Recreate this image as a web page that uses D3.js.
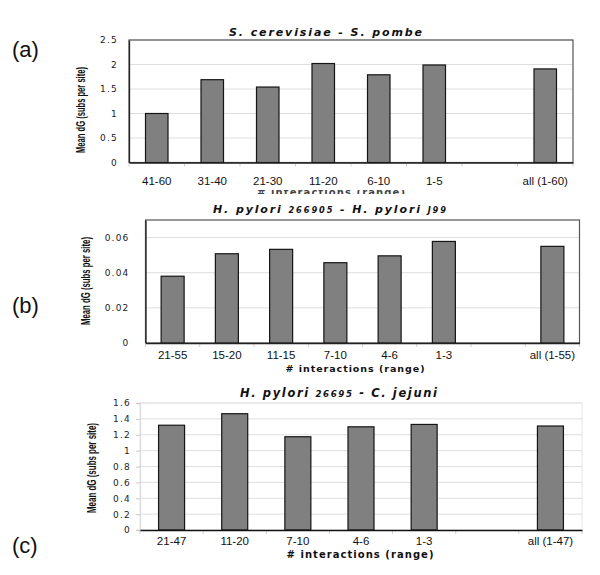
<!DOCTYPE html>
<html><head><meta charset="utf-8">
<script src="https://cdn.jsdelivr.net/npm/d3@7"></script>
<style>
body{margin:0;background:#fff;}
svg{display:block;}
</style></head>
<body>
<svg id="chart" width="600" height="575"></svg>
<script>
// ---- data ----
const catsA = ["41-60","31-40","21-30","11-20","6-10","1-5","","all (1-60)"];
const valsA = [1.0, 1.69, 1.54, 2.02, 1.79, 1.99, null, 1.91];
const ticksA = [0, 0.5, 1, 1.5, 2, 2.5];

const catsB = ["21-55","15-20","11-15","7-10","4-6","1-3","","all (1-55)"];
const valsB = [0.038, 0.0508, 0.0533, 0.0457, 0.0496, 0.0578, null, 0.055];
const ticksB = [0, 0.02, 0.04, 0.06];

const catsC = ["21-47","11-20","7-10","4-6","1-3","","all (1-47)"];
const valsC = [1.32, 1.465, 1.175, 1.30, 1.33, null, 1.31];
const ticksC = [0, 0.2, 0.4, 0.6, 0.8, 1, 1.2, 1.4, 1.6];

const yTitle = "Mean dG (subs per site)";
const xTitle = "# interactions (range)";

const svg = d3.select("#chart");
const SANS = "Liberation Sans, Arial, sans-serif";
const WIDE = "DejaVu Sans, Verdana, sans-serif";

function panel(o){
  const g = svg.append("g");
  const x = d3.scaleBand().domain(o.cats.map((c,i)=>i)).range([o.x0,o.x1]).paddingInner(0).paddingOuter(0);
  const y = d3.scaleLinear().domain([0,o.ymax]).range([o.yb,o.yt]);
  // gridlines
  g.append("g").selectAll("line").data(o.ticks.filter(t=>t>0)).join("line")
    .attr("x1",o.x0).attr("x2",o.x1).attr("y1",d=>y(d)).attr("y2",d=>y(d))
    .attr("stroke","#dedede").attr("stroke-width",1);
  // frame
  g.append("rect").attr("x",o.x0).attr("y",o.yt).attr("width",o.x1-o.x0).attr("height",o.yb-o.yt)
    .attr("fill","none").attr("stroke",o.frame).attr("stroke-width",o.frameW);
  // slot boundary ticks
  g.append("g").selectAll("line").data(d3.range(o.cats.length+1)).join("line")
    .attr("x1",i=>o.x0+i*x.step()).attr("x2",i=>o.x0+i*x.step())
    .attr("y1",o.yb).attr("y2",o.yb+4).attr("stroke","#d0d0d0");
  // bars
  const bw = o.bw;
  g.append("g").selectAll("rect").data(o.vals.map((v,i)=>({v,i})).filter(d=>d.v!=null)).join("rect")
    .attr("x",d=>x(d.i)+x.bandwidth()/2-bw/2).attr("width",bw)
    .attr("y",d=>y(d.v)).attr("height",d=>y(0)-y(d.v))
    .attr("fill","#808080").attr("stroke","#151515").attr("stroke-width",1.2);
  // y axis
  const ya = d3.axisLeft(y).tickValues(o.ticks).tickFormat(d=>String(+d.toFixed(2))).tickSize(o.ytick).tickPadding(o.ypad);
  const yg = g.append("g").attr("transform",`translate(${o.x0},0)`).call(ya);
  yg.select(".domain").attr("stroke",o.yaxis).attr("stroke-width",1.3);
  yg.selectAll(".tick line").attr("stroke","#c8c8c8");
  yg.selectAll("text").attr("font-family",WIDE).attr("font-size",9).attr("fill","#222").attr("letter-spacing","1.2px");
  // x axis
  const xa = d3.axisBottom(x).tickFormat(i=>o.cats[i]).tickSize(0).tickPadding(o.xpad);
  const xg = g.append("g").attr("transform",`translate(0,${o.yb})`).call(xa);
  xg.select(".domain").attr("stroke",o.xaxis).attr("stroke-width",1.3);
  xg.selectAll("text").attr("font-family",SANS).attr("font-size",11.5).attr("fill","#111");
  // y title
  g.append("text")
    .attr("transform",`translate(${o.ytx},${o.yty}) rotate(-90)`)
    .attr("text-anchor","middle").attr("font-family",SANS).attr("font-size",12.5).attr("font-weight","bold").attr("fill","#111")
    .attr("textLength",o.ytl).attr("lengthAdjust","spacingAndGlyphs")
    .text(yTitle);
  // panel letter
  g.append("text").attr("x",o.lx).attr("y",o.ly).attr("font-family",SANS)
    .attr("font-size",22).attr("fill","#111").text(o.letter);
  return {g,x,y};
}

function title(t, x0, len, by, fs){
  const tx = svg.append("text").attr("x",x0).attr("y",by)
    .attr("font-family",WIDE).attr("font-weight","bold").attr("fill","#111")
    .attr("font-size",fs).attr("textLength",len).attr("lengthAdjust","spacing");
  t.forEach(p=>{
    tx.append("tspan").attr("font-style","italic").attr("font-size",p.small?fs*0.75:fs).text(p.s);
  });
}

// Panel (a)
panel({cats:catsA, vals:valsA, ticks:ticksA, ymax:2.5, x0:129, x1:573, yt:40, yb:162.5, bw:22.5,
  frame:"#555", frameW:1.2, yaxis:"#222", xaxis:"#222", ytick:0, ypad:11, xpad:14,
  ytx:85, yty:110, ytl:86, letter:"(a)", lx:12, ly:57});
title([{s:"S. cerevisiae  -  S. pombe"}], 229, 193, 36, 11);
// axis title of (a), mostly hidden in the reference: only a thin lower strip is visible
svg.append("clipPath").attr("id","clipA").append("rect").attr("x",200).attr("y",190).attr("width",260).attr("height",4);
svg.append("text").attr("clip-path","url(#clipA)").attr("x",331).attr("y",196).attr("text-anchor","middle")
  .attr("font-family",WIDE).attr("font-weight","bold").attr("font-size",10).attr("fill","#444")
  .attr("textLength",148).attr("lengthAdjust","spacing").text(xTitle);

// Panel (b)
panel({cats:catsB, vals:valsB, ticks:ticksB, ymax:0.07, x0:145.5, x1:579.5, yt:220, yb:343, bw:23,
  frame:"#555", frameW:1.2, yaxis:"#222", xaxis:"#222", ytick:0, ypad:16, xpad:8,
  ytx:90, yty:281, ytl:88, letter:"(b)", lx:12, ly:313});
title([{s:"H. pylori  "},{s:"266905",small:true},{s:"  -  H. pylori  "},{s:"J99",small:true}], 213, 233, 213, 11);
svg.append("text").attr("x",355).attr("y",371.5).attr("text-anchor","middle")
  .attr("font-family",WIDE).attr("font-weight","bold").attr("font-size",9.5).attr("fill","#111")
  .attr("textLength",139).attr("lengthAdjust","spacing").text(xTitle);

// Panel (c)
panel({cats:catsC, vals:valsC, ticks:ticksC, ymax:1.6, x0:140, x1:582, yt:403, yb:530, bw:26,
  frame:"#e6e6e6", frameW:1, yaxis:"#dcdcdc", xaxis:"#111", ytick:4, ypad:5, xpad:7,
  ytx:96, yty:468, ytl:90, letter:"(c)", lx:12, ly:553});
title([{s:"H. pylori  "},{s:"26695",small:true},{s:"  -  C. jejuni"}], 240, 197, 396.5, 11.5);
svg.append("text").attr("x",360).attr("y",558).attr("text-anchor","middle")
  .attr("font-family",WIDE).attr("font-weight","bold").attr("font-size",10).attr("fill","#111")
  .attr("textLength",147).attr("lengthAdjust","spacing").text(xTitle);
</script>
</body></html>
